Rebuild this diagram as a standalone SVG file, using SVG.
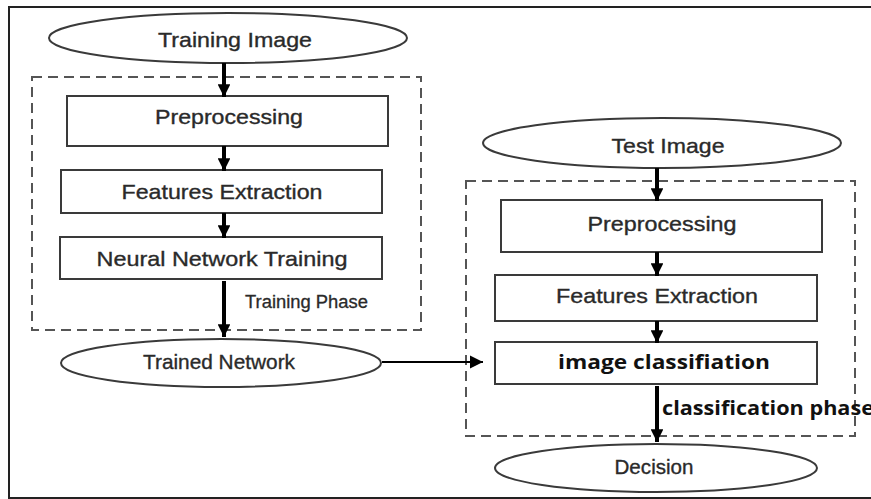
<svg xmlns="http://www.w3.org/2000/svg" width="871" height="499" viewBox="0 0 871 499">
<defs>
<marker id="ah" viewBox="0 0 10 10" refX="10" refY="5" markerWidth="3.3" markerHeight="3.2" markerUnits="strokeWidth" orient="auto">
<path d="M0,0 L10,5 L0,10 z" fill="#000"/>
</marker>
<marker id="ah2" viewBox="0 0 10 10" refX="10" refY="5" markerWidth="6" markerHeight="6" markerUnits="strokeWidth" orient="auto">
<path d="M0,0 L10,5 L0,10 z" fill="#000"/>
</marker>
</defs>
<style>
.shape{fill:#fff;stroke:#3a3a3a;stroke-width:2}
.dash{fill:none;stroke:#555;stroke-width:2;stroke-dasharray:10 6}
.t{font-family:"Liberation Sans",Arial,sans-serif;font-size:21px;fill:#2a2a2a;stroke:#2a2a2a;stroke-width:0.35;text-anchor:middle}
.b{font-family:"Open Sans","Noto Sans",sans-serif;font-weight:bold;font-size:19px;fill:#111}
.c{stroke:#000;stroke-width:4;fill:none}
</style>
<rect x="0" y="0" width="871" height="499" fill="#fff"/>
<path d="M872,7 H9 V498 H872" fill="none" stroke="#222" stroke-width="2"/>
<g id="phase-training"><rect class="dash" x="32" y="77" width="389" height="253"/></g>
<g id="phase-classification"><rect class="dash" x="466" y="181" width="389" height="255"/></g>
<g id="training-image"><ellipse class="shape" cx="228" cy="38" rx="179" ry="25"/><text class="t" x="235" y="47" textLength="154" lengthAdjust="spacingAndGlyphs">Training Image</text></g>
<g id="pre1"><rect class="shape" x="67" y="96" width="321" height="50"/><text class="t" x="229" y="124" textLength="148" lengthAdjust="spacingAndGlyphs">Preprocessing</text></g>
<g id="feat1"><rect class="shape" x="61" y="170" width="321" height="43"/><text class="t" x="222" y="199" textLength="201" lengthAdjust="spacingAndGlyphs">Features Extraction</text></g>
<g id="nnt"><rect class="shape" x="60" y="237" width="322" height="42"/><text class="t" x="222" y="266" textLength="251" lengthAdjust="spacingAndGlyphs">Neural Network Training</text></g>
<g id="trained"><ellipse class="shape" cx="221" cy="363" rx="160" ry="24"/><text class="t" x="219" y="369" font-size="19" textLength="152" lengthAdjust="spacingAndGlyphs">Trained Network</text></g>
<g id="test-image"><ellipse class="shape" cx="662" cy="143" rx="179" ry="25"/><text class="t" x="668" y="153" textLength="113" lengthAdjust="spacingAndGlyphs">Test Image</text></g>
<g id="pre2"><rect class="shape" x="501" y="200" width="321" height="52"/><text class="t" x="662" y="231" textLength="149" lengthAdjust="spacingAndGlyphs">Preprocessing</text></g>
<g id="feat2"><rect class="shape" x="495" y="275" width="322" height="46"/><text class="t" x="657" y="303" textLength="202" lengthAdjust="spacingAndGlyphs">Features Extraction</text></g>
<g id="classify"><rect class="shape" x="495" y="342" width="322" height="42"/><text class="b" x="664" y="369" text-anchor="middle" textLength="212" lengthAdjust="spacingAndGlyphs">image classifiation</text></g>
<g id="decision"><ellipse class="shape" cx="656" cy="468" rx="161" ry="24"/><text class="t" x="654" y="474" font-size="19" textLength="79" lengthAdjust="spacingAndGlyphs">Decision</text></g>
<g id="connectors">
<line class="c" x1="224" y1="63" x2="224" y2="97" marker-end="url(#ah)"/>
<line class="c" x1="224" y1="146" x2="224" y2="171" marker-end="url(#ah)"/>
<line class="c" x1="224" y1="213" x2="224" y2="238" marker-end="url(#ah)"/>
<line class="c" x1="224" y1="281" x2="224" y2="337" marker-end="url(#ah)"/>
<line class="c" x1="657" y1="168" x2="657" y2="201" marker-end="url(#ah)"/>
<line class="c" x1="657" y1="252" x2="657" y2="276" marker-end="url(#ah)"/>
<line class="c" x1="657" y1="321" x2="657" y2="343" marker-end="url(#ah)"/>
<line class="c" x1="657" y1="386" x2="657" y2="442" marker-end="url(#ah)"/>
<line x1="382" y1="362" x2="483" y2="362" stroke="#000" stroke-width="2.2" marker-end="url(#ah2)"/>
<text x="245" y="308" font-family="'Liberation Sans Narrow','Liberation Sans',Arial,sans-serif" font-size="18" fill="#2a2a2a" stroke="#2a2a2a" stroke-width="0.3" textLength="123" lengthAdjust="spacingAndGlyphs">Training Phase</text>
<text class="b" x="662" y="415" textLength="212" lengthAdjust="spacingAndGlyphs">classification phase</text>
</g>
</svg>
